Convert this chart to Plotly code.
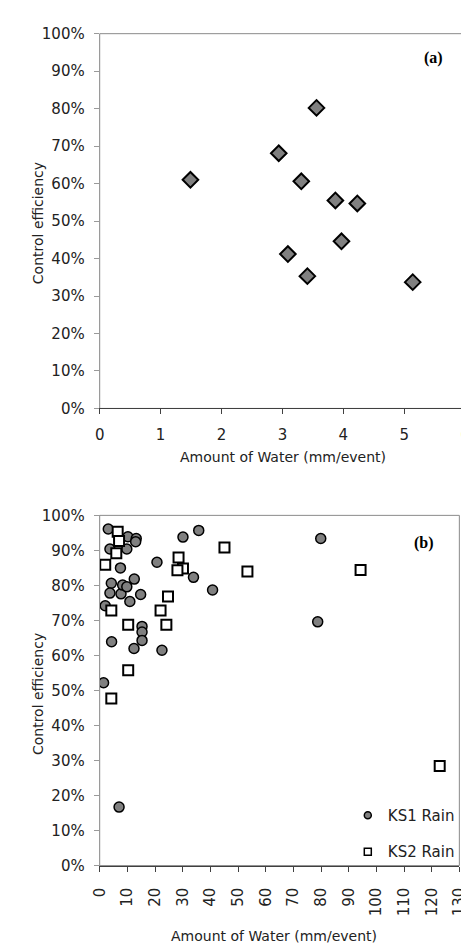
import plotly.graph_objects as go

W, H = 469, 949

# ---- Panel (a) data ----
a_water = [1.49, 2.94, 3.56, 3.31, 3.87, 4.23, 3.09, 3.41, 3.97, 5.14]
a_eff = [0.610, 0.681, 0.802, 0.606, 0.555, 0.547, 0.412, 0.353, 0.446, 0.337]

# ---- Panel (b) data ----
ks1_water = [3.1, 10.2, 13.2, 13.0, 3.7, 9.8, 7.5, 30.1, 35.8, 20.7, 33.9, 40.8,
             79.9, 78.8, 4.2, 3.7, 2.0, 7.7, 8.3, 9.8, 12.5, 10.9, 14.8,
             15.3, 15.3, 15.3, 12.4, 22.5, 4.3, 1.4, 7.0]
ks1_eff = [0.961, 0.939, 0.934, 0.925, 0.904, 0.904, 0.850, 0.938, 0.957, 0.866,
           0.823, 0.787, 0.934, 0.696, 0.806, 0.778, 0.742, 0.776, 0.801, 0.796,
           0.818, 0.754, 0.774, 0.683, 0.667, 0.643, 0.620, 0.615, 0.639, 0.522, 0.167]

ks2_water = [2.0, 6.5, 7.0, 6.0, 4.2, 10.3, 10.3, 28.5, 30.1, 28.1, 24.7, 22.0,
             24.1, 45.1, 53.4, 94.3, 4.2, 122.9]
ks2_eff = [0.859, 0.953, 0.927, 0.892, 0.728, 0.688, 0.558, 0.880, 0.848, 0.843,
           0.768, 0.728, 0.688, 0.908, 0.840, 0.844, 0.477, 0.284]

y_ticks = [i / 10 for i in range(11)]
y_ticktext = [f"{i * 10}%" for i in range(11)]
xa_ticks = list(range(0, 7))
xb_ticks = list(range(0, 131, 10))

FONT = "DejaVu Sans, Liberation Sans, Arial, sans-serif"
TXT = "#222222"

fig = go.Figure()

fig.add_trace(go.Scatter(
    x=a_water, y=a_eff, mode="markers", xaxis="x", yaxis="y", showlegend=False,
    marker=dict(symbol="diamond", size=12, color="#808080",
                line=dict(color="#000000", width=2)),
))
fig.add_trace(go.Scatter(
    x=ks1_water, y=ks1_eff, mode="markers", xaxis="x2", yaxis="y2",
    name="KS1 Rain", showlegend=False,
    marker=dict(symbol="circle", size=10, color="#808080",
                line=dict(color="#000000", width=1.5)),
))
fig.add_trace(go.Scatter(
    x=ks2_water, y=ks2_eff, mode="markers", xaxis="x2", yaxis="y2",
    name="KS2 Rain", showlegend=False,
    marker=dict(symbol="square", size=10, color="#ffffff",
                line=dict(color="#000000", width=2)),
))
# legend entries (small markers as in the original legend)
fig.add_trace(go.Scatter(
    x=[None], y=[None], mode="markers", xaxis="x2", yaxis="y2",
    name="KS1 Rain", legendgroup="g1",
    marker=dict(symbol="circle", size=7, color="#808080",
                line=dict(color="#000000", width=1.5)),
))
fig.add_trace(go.Scatter(
    x=[None], y=[None], mode="markers", xaxis="x2", yaxis="y2",
    name="KS2 Rain", legendgroup="g2",
    marker=dict(symbol="square", size=7, color="#ffffff",
                line=dict(color="#000000", width=1.5)),
))

def px_x(p):
    return p / W

def px_y(p):
    return 1 - p / H

common_axis = dict(
    showgrid=False, zeroline=False, ticks="outside", ticklen=5, tickwidth=1,
    tickfont=dict(family=FONT, size=15, color=TXT), showline=True,
)

fig.update_layout(
    width=W, height=H,
    margin=dict(l=0, r=0, t=0, b=0),
    paper_bgcolor="white", plot_bgcolor="white",
    font=dict(family=FONT, size=14, color=TXT),
    xaxis=dict(domain=[px_x(86), px_x(466)], range=[0, 6], tickvals=xa_ticks,
               anchor="y", linecolor="#404040", tickcolor="#404040",
               ticklabelstandoff=8, **common_axis),
    yaxis=dict(domain=[px_y(399), px_y(17)], range=[0, 1], tickvals=y_ticks,
               ticktext=y_ticktext, anchor="x", linecolor="#9a9a9a",
               tickcolor="#9a9a9a", ticklabelstandoff=6, **common_axis),
    xaxis2=dict(domain=[px_x(86), px_x(460)], range=[0, 130], tickvals=xb_ticks,
                anchor="y2", linecolor="#404040", tickcolor="#404040",
                tickangle=-90, ticklabelstandoff=10, **common_axis),
    yaxis2=dict(domain=[px_y(865), px_y(508)], range=[0, 1], tickvals=y_ticks,
                ticktext=y_ticktext, anchor="x2", linecolor="#9a9a9a",
                tickcolor="#9a9a9a", ticklabelstandoff=6, **common_axis),
    legend=dict(x=px_x(344), y=px_y(797), xanchor="left", yanchor="top",
                bgcolor="rgba(0,0,0,0)", font=dict(family=FONT, size=15, color=TXT),
                tracegroupgap=14, itemwidth=30, traceorder="grouped"),
    showlegend=True,
)

# plot area borders (top/right) in gray
for (x0, x1, y0, y1) in [(86, 466, 17, 399), (86, 460, 508, 865)]:
    fig.add_shape(type="rect", xref="paper", yref="paper",
                  x0=px_x(x0), x1=px_x(x1), y0=px_y(y1), y1=px_y(y0),
                  line=dict(color="#8a8a8a", width=1), layer="below")

SERIF = "Liberation Serif, Times New Roman, serif"
annos = [
    dict(text="<b>(a)</b>", x=px_x(433), y=px_y(42), font=dict(family=SERIF, size=16, color="#000")),
    dict(text="<b>(b)</b>", x=px_x(423), y=px_y(536), font=dict(family=SERIF, size=16, color="#000")),
    dict(text="Control efficiency", x=px_x(22), y=px_y(210), textangle=-90),
    dict(text="Control efficiency", x=px_x(22), y=px_y(690), textangle=-90),
    dict(text="Amount of Water (mm/event)", x=px_x(277), y=px_y(448)),
    dict(text="Amount of Water (mm/event)", x=px_x(267), y=px_y(937)),
]
for a in annos:
    a.setdefault("font", dict(family=FONT, size=14, color=TXT))
    fig.add_annotation(xref="paper", yref="paper", xanchor="center", yanchor="middle",
                       showarrow=False, **a)

fig.write_html("out.html")
